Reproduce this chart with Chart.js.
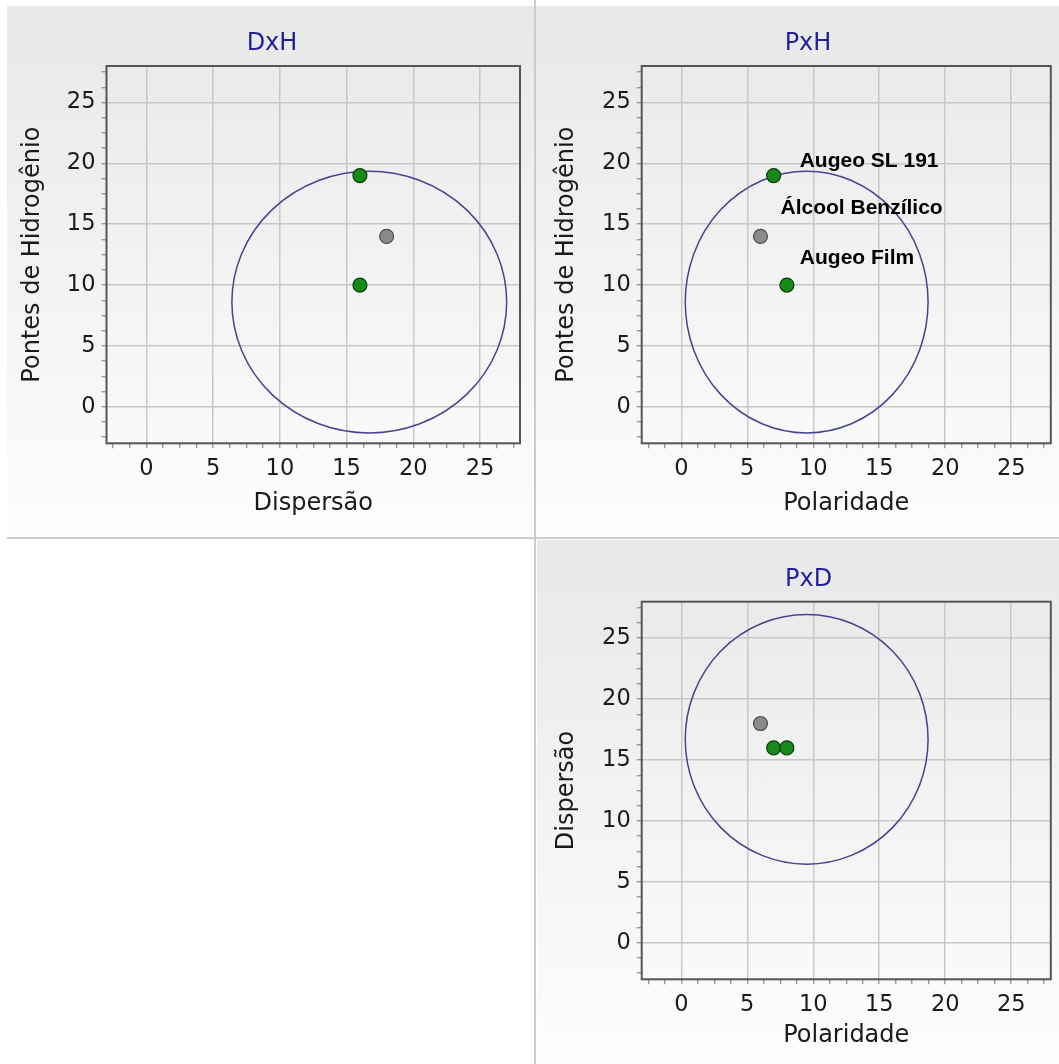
<!DOCTYPE html>
<html><head><meta charset="utf-8">
<script src="https://cdn.jsdelivr.net/npm/chart.js@4"></script>
<style>
html,body{margin:0;padding:0;background:#fff;width:1059px;height:1064px;overflow:hidden;position:relative}
.panel{position:absolute;background:linear-gradient(#e8e8e8,#fdfdfd)}
.line{position:absolute;background:#cbcbcb}
canvas{position:absolute}
</style></head><body>
<div class="panel" style="left:7px;top:6px;width:527px;height:530px"></div>
<div class="panel" style="left:536px;top:6px;width:523px;height:531px"></div>
<div class="panel" style="left:537px;top:540px;width:522px;height:524px"></div>
<div class="line" style="left:534px;top:0;width:2px;height:1064px"></div>
<div class="line" style="left:7px;top:537px;width:1052px;height:2px"></div>
<canvas id="c1" width="534" height="537" style="left:0;top:0"></canvas>
<canvas id="c2" width="523" height="537" style="left:536px;top:0"></canvas>
<canvas id="c3" width="522" height="525" style="left:537px;top:539px"></canvas>
<script>
// ---- data ----
const solventes = ['Augeo SL 191', 'Álcool Benzílico', 'Augeo Film'];
const grupo = ['Augeo', 'Álcool', 'Augeo'];
const dispersao = [16, 18, 16];
const polaridade = [7, 6, 8];
const hidrogenio = [19, 14, 10];
// sphere centre (D, P, H) and projected radii (x, y) per view
const centroEsfera = [16.7, 9.5, 8.6];
const raioDxH = [10.3, 10.75];
const raioPxH = [9.2, 10.75];
const raioPxD = [9.2, 10.25];
const tickLabels = [0, 5, 10, 15, 20, 25];
const axisMin = -3, axisMax = 28, minorStep = 1.25;

// ---- styles ----
const FONT = 'DejaVu Sans';
const fillByGroup = { 'Augeo': '#168a16', 'Álcool': '#8a8a8a' };
const edgeByGroup = { 'Augeo': '#0b3a0b', 'Álcool': '#4a4a4a' };
const labelOffsets = [[26, -9], [20, -22], [13, -21]];

const framePlugin = {
  id: 'frame',
  afterDraw(chart) {
    const a = chart.chartArea, ctx = chart.ctx;
    ctx.save();
    ctx.strokeStyle = '#555555';
    ctx.lineWidth = 2;
    ctx.strokeRect(a.left, a.top, a.right - a.left, a.bottom - a.top);
    ctx.restore();
  }
};
const spherePlugin = {
  id: 'sphere',
  beforeDatasetsDraw(chart, args, opts) {
    const xs = chart.scales.x, ys = chart.scales.y, ctx = chart.ctx;
    const cx = xs.getPixelForValue(opts.center[0]);
    const cy = ys.getPixelForValue(opts.center[1]);
    const rx = Math.abs(xs.getPixelForValue(opts.center[0] + opts.radius[0]) - cx);
    const ry = Math.abs(ys.getPixelForValue(opts.center[1] + opts.radius[1]) - cy);
    ctx.save();
    ctx.beginPath();
    ctx.ellipse(cx, cy, rx, ry, 0, 0, Math.PI * 2);
    ctx.strokeStyle = '#45458f';
    ctx.lineWidth = 1.5;
    ctx.stroke();
    ctx.restore();
  }
};
const titlePlugin = {
  id: 'panelTitle',
  afterDraw(chart, args, opts) {
    const ctx = chart.ctx;
    ctx.save();
    ctx.font = '24px "' + FONT + '"';
    ctx.fillStyle = '#1f1fa0';
    ctx.textAlign = 'center';
    ctx.textBaseline = 'middle';
    ctx.fillText(opts.text, opts.x, opts.y);
    ctx.restore();
  }
};
const labelPlugin = {
  id: 'pointLabels',
  afterDatasetsDraw(chart, args, opts) {
    if (!opts.show) return;
    const ctx = chart.ctx;
    const meta = chart.getDatasetMeta(0);
    ctx.save();
    ctx.font = 'bold 21px "Liberation Sans"';
    ctx.fillStyle = '#000';
    ctx.textAlign = 'left';
    ctx.textBaseline = 'alphabetic';
    meta.data.forEach((el, i) => {
      ctx.fillText(solventes[i], el.x + labelOffsets[i][0], el.y + labelOffsets[i][1]);
    });
    ctx.restore();
  }
};

function makeScale(isX, titleText, lay) {
  return {
    type: 'linear', position: isX ? 'bottom' : 'left', min: axisMin, max: axisMax,
    afterBuildTicks(scale) {
      const t = [];
      for (let v = axisMin + 0.5; v <= axisMax - 0.5 + 1e-9; v += minorStep) t.push({ value: v });
      scale.ticks = t;
    },
    afterFit(scale) { if (isX) scale.height = lay.xHeight; else scale.width = lay.yWidth; },
    ticks: {
      autoSkip: false, maxRotation: 0, minRotation: 0,
      padding: isX ? lay.xTickPad : lay.yTickPad,
      color: '#1a1a1a', font: { family: FONT, size: 22.5 },
      callback: (v) => tickLabels.includes(v) ? String(v) : ''
    },
    grid: {
      color: (c) => (c.tick && tickLabels.includes(c.tick.value)) ? '#c8c8c8' : 'rgba(0,0,0,0)',
      lineWidth: 1.5, tickLength: 5, tickColor: '#8a8a8a', tickWidth: 1.2, drawTicks: true
    },
    border: { display: false },
    title: {
      display: true, text: titleText, color: '#1a1a1a', font: { family: FONT, size: 24 },
      padding: isX ? { top: 0, bottom: lay.xTitlePad } : { top: lay.yTitlePad, bottom: 0 }
    }
  };
}

function makeChart(id, xs, ys, xTitle, yTitle, title, center, radius, lay, showLabels) {
  const pts = xs.map((x, i) => ({ x: x, y: ys[i] }));
  return new Chart(document.getElementById(id), {
    type: 'scatter',
    data: { datasets: [{
      data: pts,
      pointRadius: 7,
      pointHoverRadius: 7,
      pointBorderWidth: 1.2,
      pointBackgroundColor: grupo.map(g => fillByGroup[g]),
      pointBorderColor: grupo.map(g => edgeByGroup[g])
    }] },
    options: {
      responsive: false, animation: false, devicePixelRatio: 1,
      layout: { padding: { top: lay.padTop, right: lay.padRight, left: 0, bottom: 0 } },
      scales: { x: makeScale(true, xTitle, lay), y: makeScale(false, yTitle, lay) },
      plugins: {
        legend: { display: false }, tooltip: { enabled: false }, title: { display: false },
        sphere: { center: center, radius: radius },
        panelTitle: { text: title, x: lay.titleX, y: lay.titleY },
        pointLabels: { show: showLabels }
      }
    },
    plugins: [spherePlugin, labelPlugin, framePlugin, titlePlugin]
  });
}

const lay1 = { padTop: 66, padRight: 14, yWidth: 106.5, xHeight: 93.7, xTickPad: 7.2, yTickPad: 6, xTitlePad: 19, yTitlePad: 18.6, titleX: 272, titleY: 44 };
const lay2 = { padTop: 66, padRight: 4, yWidth: 105.7, xHeight: 93.7, xTickPad: 7.2, yTickPad: 6, xTitlePad: 19, yTitlePad: 16, titleX: 272, titleY: 44 };
const lay3 = { padTop: 62.7, padRight: 3, yWidth: 104.7, xHeight: 84.7, xTickPad: 7.2, yTickPad: 6, xTitlePad: 13.6, yTitlePad: 15.1, titleX: 271.7, titleY: 40.4 };

makeChart('c1', dispersao, hidrogenio, 'Dispersão', 'Pontes de Hidrogênio', 'DxH',
  [centroEsfera[0], centroEsfera[2]], raioDxH, lay1, false);
makeChart('c2', polaridade, hidrogenio, 'Polaridade', 'Pontes de Hidrogênio', 'PxH',
  [centroEsfera[1], centroEsfera[2]], raioPxH, lay2, true);
makeChart('c3', polaridade, dispersao, 'Polaridade', 'Dispersão', 'PxD',
  [centroEsfera[1], centroEsfera[0]], raioPxD, lay3, false);
</script>
</body></html>
